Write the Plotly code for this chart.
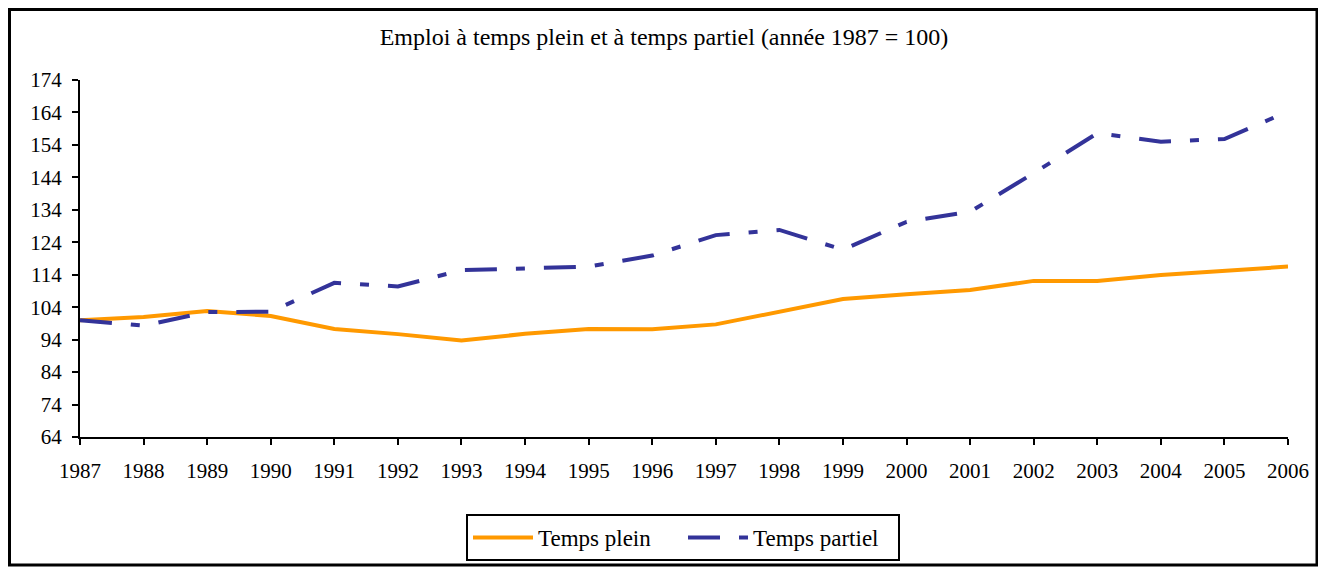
import plotly.graph_objects as go

years = list(range(1987, 2007))
temps_plein = [100, 101, 102.8, 101.3, 97.3, 95.7, 93.7, 95.8, 97.3, 97.2,
               98.7, 102.6, 106.5, 108.0, 109.3, 112.1, 112.1, 113.9, 115.3, 116.5]
temps_partiel = [100, 98.3, 102.5, 102.6, 111.5, 110.4, 115.4, 116.1, 116.5, 119.9,
                 126.2, 127.8, 121.7, 130.3, 133.4, 145.3, 157.6, 155.0, 155.8, 164.3]
y_ticks = list(range(64, 184, 10))
title_text = "Emploi à temps plein et à temps partiel (année 1987 = 100)"

# page has an 8px body margin: figure pixel = page pixel - 8
OFF = 8
W, H = 1326 - OFF, 567 - OFF
L, R, T, B = 80 - OFF, 38, 80 - OFF, 130
pw, ph = W - L - R, H - T - B

def px_x(p):  # page x -> paper
    return (p - OFF - L) / pw

def px_y(p):  # page y -> paper
    return (H - B - (p - OFF)) / ph

FONT = "Liberation Serif, Times New Roman, serif"
FS = 21

fig = go.Figure()
fig.add_trace(go.Scatter(x=years, y=temps_plein, mode="lines", name="Temps plein",
                         line=dict(color="#FF9900", width=4)))
fig.add_trace(go.Scatter(x=years, y=temps_partiel, mode="lines", name="Temps partiel",
                         line=dict(color="#333399", width=4, dash="32px,19px,9px,19px")))

fig.update_layout(
    width=W, height=H,
    margin=dict(l=L, r=R, t=T, b=B),
    paper_bgcolor="white", plot_bgcolor="white",
    font=dict(family=FONT, size=FS, color="black"),
    title=dict(text=title_text, x=(664 - OFF) / W, xref="container", xanchor="center",
               y=1 - (37 - OFF) / H, yanchor="middle", yref="container",
               font=dict(family=FONT, size=24, color="black")),
    xaxis=dict(range=[1987, 2006], tickmode="array", tickvals=years,
               ticktext=[str(y) for y in years], showgrid=False, zeroline=False,
               showline=True, linecolor="black", linewidth=2,
               ticks="outside", ticklen=6, tickwidth=2, tickcolor="black",
               ticklabelstandoff=8, tickfont=dict(family=FONT, size=FS)),
    yaxis=dict(range=[64, 174], tickmode="array", tickvals=y_ticks,
               showgrid=False, zeroline=False,
               showline=True, linecolor="black", linewidth=2,
               ticks="outside", ticklen=6, tickwidth=2, tickcolor="black",
               ticklabelstandoff=6, tickfont=dict(family=FONT, size=FS)),
    xaxis2=dict(range=[1987, 2006], overlaying="x", anchor="y", side="bottom",
                tickmode="array", tickvals=years, showticklabels=False,
                showgrid=False, zeroline=False, showline=False,
                ticks="inside", ticklen=6, tickwidth=2, tickcolor="black"),
    yaxis2=dict(range=[64, 174], overlaying="y", anchor="x", side="left",
                tickmode="array", tickvals=y_ticks, showticklabels=False,
                showgrid=False, zeroline=False, showline=False,
                ticks="inside", ticklen=6, tickwidth=2, tickcolor="black"),
    showlegend=True,
    legend=dict(orientation="h", xref="container", x=(683 - OFF) / W, xanchor="center",
                yref="container", y=(H - (514 - OFF)) / H, yanchor="top",
                bordercolor="black", borderwidth=2, bgcolor="white",
                font=dict(family=FONT, size=23), itemwidth=60,
                entrywidth=140, tracegroupgap=0),
)

# outer chart frame
fig.add_shape(type="rect", xref="paper", yref="paper",
              x0=px_x(9.5), x1=px_x(1317), y0=px_y(565), y1=px_y(9.5),
              line=dict(color="black", width=3), layer="below")

fig.write_html("out.html")
